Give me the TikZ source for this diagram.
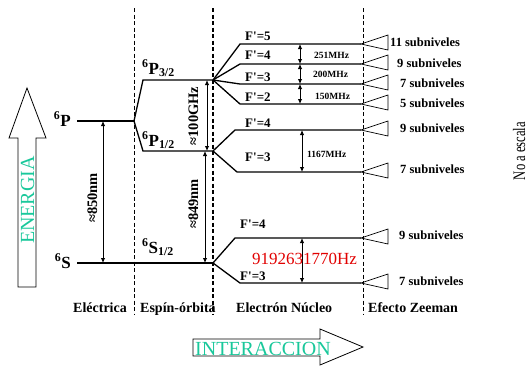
\documentclass[tikz,border=0pt]{standalone}
\usepackage{fontspec}
\setmainfont{Liberation Serif}
\usetikzlibrary{arrows.meta}
\definecolor{tealtx}{RGB}{25,200,155}
\definecolor{hzred}{RGB}{225,0,0}
\newcommand{\Fq}{F\textquotesingle=}
\begin{document}
\begin{tikzpicture}[x=1pt,y=-1pt,
  lvl/.style={line width=1.3pt},
  sep/.style={line width=0.7pt, dash pattern=on 4pt off 2.5pt},
  septhick/.style={line width=1.4pt, dash pattern=on 4pt off 2.5pt},
  dim/.style={line width=0.9pt, {Latex[length=5pt,width=4.5pt]}-{Latex[length=5pt,width=4.5pt]}},
  zee/.style={line width=0.7pt},
  big/.style={font=\bfseries\fontsize{17}{19}\selectfont, inner sep=0pt},
  flab/.style={font=\bfseries\fontsize{13}{15}\selectfont, inner sep=0pt, anchor=base west},
  mhz/.style={font=\bfseries\fontsize{9.5}{11}\selectfont, inner sep=0pt, anchor=base west},
  sub/.style={font=\bfseries\fontsize{12.5}{14}\selectfont, inner sep=0pt, anchor=base west},
  bot/.style={font=\bfseries\fontsize{14}{16}\selectfont, inner sep=0pt, anchor=base west},
  rot/.style={font=\bfseries\fontsize{14.5}{16}\selectfont, inner sep=0pt, anchor=base, rotate=90},
  bigarrow/.style={draw=black, line width=0.8pt, fill=white}
]
\useasboundingbox (0,0) rectangle (529,365);

% separators
\draw[sep] (134,8) -- (134,314);
\draw[septhick] (213,8) -- (213,314);
\draw[sep] (363,8) -- (363,314);

% ENERGIA arrow
\draw[bigarrow] (18,287) -- (18,138) -- (9,138) -- (27,88) -- (46,138) -- (36,138) -- (36,287) -- cycle;
\node[font=\fontsize{20}{22}\selectfont, text=tealtx, inner sep=0pt, anchor=base, rotate=90] (energia) at (34,200) {ENERGIA};

% INTERACCION arrow
\draw[bigarrow] (193,339) -- (320,339) -- (320,329) -- (363,347) -- (320,365) -- (320,356) -- (193,356) -- cycle;
\node[font=\fontsize{20}{22}\selectfont, text=tealtx, inner sep=0pt, anchor=base west] (interaccion) at (195,355) {INTERACCION};

% coordinates
\coordinate (P0) at (77,121);
\coordinate (P1) at (134,121);
\coordinate (S0) at (77,263);
\coordinate (S1) at (213,263);
\coordinate (P32a) at (143,80);
\coordinate (P32) at (213,80);
\coordinate (P12a) at (143,151);
\coordinate (P12) at (213,151);

\coordinate (f5a) at (240,44);  \coordinate (f5) at (361,44);
\coordinate (f4a) at (240,64);  \coordinate (f4) at (361,64);
\coordinate (f3a) at (240,84);  \coordinate (f3) at (361,84);
\coordinate (f2a) at (240,104); \coordinate (f2) at (361,104);
\coordinate (g4a) at (235,130); \coordinate (g4) at (361,130);
\coordinate (g3a) at (237,172); \coordinate (g3) at (361,172);
\coordinate (h4a) at (235,238); \coordinate (h4) at (361,238);
\coordinate (h3a) at (240,283); \coordinate (h3) at (361,283);

% levels
\draw[lvl] (P0) -- (P1);
\draw[lvl] (S0) -- (S1);
\draw[lvl] (P1) -- (P32a) -- (P32);
\draw[lvl] (P1) -- (P12a) -- (P12);
\draw[lvl] (P32) -- (f5a) -- (f5);
\draw[lvl] (P32) -- (f4a) -- (f4);
\draw[lvl] (P32) -- (f3a) -- (f3);
\draw[lvl] (P32) -- (f2a) -- (f2);
\draw[lvl] (P12) -- (g4a) -- (g4);
\draw[lvl] (P12) -- (g3a) -- (g3);
\draw[lvl] (S1) -- (h4a) -- (h4);
\draw[lvl] (S1) -- (h3a) -- (h3);

% Zeeman triangles
\foreach \c in {f5,f4,f3,f2,g4,g3,h4,h3}{
  \draw[zee] (\c) -- ++(27,-9) -- ++(0,15) -- cycle;
}

% dimension arrows
\coordinate (d850a) at (103,121); \coordinate (d850b) at (103,263);
\draw[dim] (d850a) -- (d850b);
\coordinate (d100a) at (207,80); \coordinate (d100b) at (207,151);
\draw[dim] (d100a) -- (d100b);
\coordinate (d849a) at (205,151); \coordinate (d849b) at (205,263);
\draw[dim] (d849a) -- (d849b);
\coordinate (m1) at (300,44); \coordinate (m2) at (300,64);
\coordinate (m3) at (300,84); \coordinate (m4) at (300,104);
\draw[dim] (m1) -- (m2);
\draw[dim] (m2) -- (m3);
\draw[dim] (m3) -- (m4);
\coordinate (n1) at (302,130); \coordinate (n2) at (302,172);
\draw[dim] (n1) -- (n2);
\coordinate (k1) at (302,238); \coordinate (k2) at (302,283);
\draw[dim] (k1) -- (k2);

% level labels
\node[big, anchor=base east] (l6P) at (71,126) {\textsuperscript{6}P};
\node[big, anchor=base east] (l6S) at (71,268) {\textsuperscript{6}S};
\node[big, anchor=base west] (l6P32) at (142,74) {\textsuperscript{6}P\textsubscript{3/2}};
\node[big, anchor=base west] (l6P12) at (142,146) {\textsuperscript{6}P\textsubscript{1/2}};
\node[big, anchor=base west] (l6S12) at (142,253) {\textsuperscript{6}S\textsubscript{1/2}};

% rotated labels
\node[rot] (t850) at (97,198) {≈850nm};
\node[rot] (t100) at (198,116) {≈100GHz};
\node[rot] (t849) at (198,204) {≈849nm};

% F labels
\node[flab] (F5) at (245,40) {\Fq5};
\node[flab] (F4) at (245,59) {\Fq4};
\node[flab] (F3) at (245,81) {\Fq3};
\node[flab] (F2) at (245,101) {\Fq2};
\node[flab] (G4) at (245,127) {\Fq4};
\node[flab] (G3) at (245,161) {\Fq3};
\node[flab] (H4) at (240,228) {\Fq4};
\node[flab] (H3) at (240,280) {\Fq3};

% MHz labels
\node[mhz] (q251) at (314,58) {251MHz};
\node[mhz] (q200) at (313,77) {200MHz};
\node[mhz] (q150) at (315,99) {150MHz};
\node[mhz] (q1167) at (307,157) {1167MHz};
\node[font=\fontsize{17}{19}\selectfont, text=hzred, inner sep=0pt, anchor=base west] (qhz) at (252,264) {9192631770Hz};

% subniveles
\node[sub] (s11) at (390,46) {11 subniveles};
\node[sub] (s9a) at (397,67) {9 subniveles};
\node[sub] (s7a) at (400,87) {7 subniveles};
\node[sub] (s5) at (400,107) {5 subniveles};
\node[sub] (s9b) at (400,132) {9 subniveles};
\node[sub] (s7b) at (400,173) {7 subniveles};
\node[sub] (s9c) at (399,239) {9 subniveles};
\node[sub] (s7c) at (399,285) {7 subniveles};

% bottom labels
\node[bot] (bE) at (73,312) {Eléctrica};
\node[bot] (bS) at (140,312) {Espín-órbita};
\node[bot] (bN) at (236,312) {Electrón Núcleo};
\node[bot] (bZ) at (368,312) {Efecto Zeeman};

% no a escala
\node[font=\fontsize{17.5}{19}\selectfont, inner sep=0pt, anchor=base, rotate=90, xscale=0.72] (escala) at (525,151) {No a escala};
\end{tikzpicture}
\end{document}
